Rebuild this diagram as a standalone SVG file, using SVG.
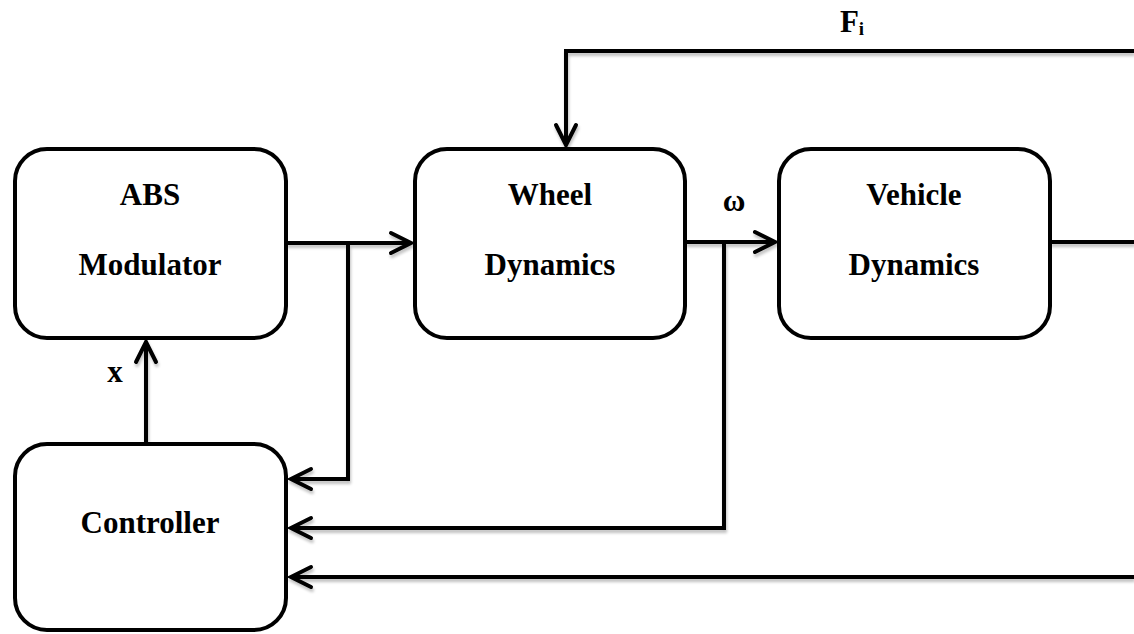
<svg xmlns="http://www.w3.org/2000/svg" width="1134" height="634" viewBox="0 0 1134 634">
<style>
.box{fill:#fff;stroke:#000;stroke-width:4}
.t{font-family:"Liberation Serif","Times New Roman",serif;font-weight:bold;font-size:31px;text-anchor:middle;fill:#000}
.lbl{font-family:"Liberation Serif","Times New Roman",serif;font-weight:bold;font-size:31px;text-anchor:middle;fill:#000}
.ln{fill:none;stroke:#000;stroke-width:4;stroke-linejoin:miter}
</style>
<defs>
<marker id="ah" markerUnits="userSpaceOnUse" viewBox="-24 -14 28 28" refX="0" refY="0" markerWidth="28" markerHeight="28" orient="auto" overflow="visible">
<path d="M-20,-10 L0,0 L-20,10" fill="none" stroke="#000" stroke-width="4" stroke-linecap="round" stroke-linejoin="miter"/>
</marker>
<filter id="sh" x="-5%" y="-5%" width="110%" height="110%">
<feGaussianBlur in="SourceAlpha" stdDeviation="1.5"/>
<feOffset dx="1" dy="3" result="b"/>
<feComponentTransfer><feFuncA type="linear" slope="0.25"/></feComponentTransfer>
<feMerge><feMergeNode/><feMergeNode in="SourceGraphic"/></feMerge>
</filter>
</defs>
<g id="connectors" filter="url(#sh)">
<path class="ln" d="M286,243 H411" marker-end="url(#ah)"/>
<path class="ln" d="M348,243 V479 H291" marker-end="url(#ah)"/>
<path class="ln" d="M685,242 H775" marker-end="url(#ah)"/>
<path class="ln" d="M724,242 V528 H291" marker-end="url(#ah)"/>
<path class="ln" d="M1050,242 H1134"/>
<path class="ln" d="M1134,577 H291" marker-end="url(#ah)"/>
<path class="ln" d="M1134,51 H566 V145" marker-end="url(#ah)"/>
<path class="ln" d="M146,444 V342" marker-end="url(#ah)"/>
</g>
<g id="abs">
<rect class="box" x="15" y="149" width="271" height="189" rx="32"/>
<text class="t" x="150" y="205">ABS</text>
<text class="t" x="150" y="275">Modulator</text>
</g>
<g id="wheel">
<rect class="box" x="415" y="149" width="270" height="189" rx="32"/>
<text class="t" x="550" y="205">Wheel</text>
<text class="t" x="550" y="275">Dynamics</text>
</g>
<g id="vehicle">
<rect class="box" x="779" y="149" width="271" height="189" rx="32"/>
<text class="t" x="914" y="205">Vehicle</text>
<text class="t" x="914" y="275">Dynamics</text>
</g>
<g id="controller">
<rect class="box" x="15" y="444" width="271" height="186" rx="32"/>
<text class="t" x="150" y="533">Controller</text>
</g>
<g id="labels">
<text class="lbl" x="734" y="211" font-size="28">ω</text>
<text class="lbl" x="115" y="382">x</text>
<text class="lbl" x="852" y="32" text-anchor="start">F<tspan font-size="19" dy="3">i</tspan></text>
</g>
</svg>
